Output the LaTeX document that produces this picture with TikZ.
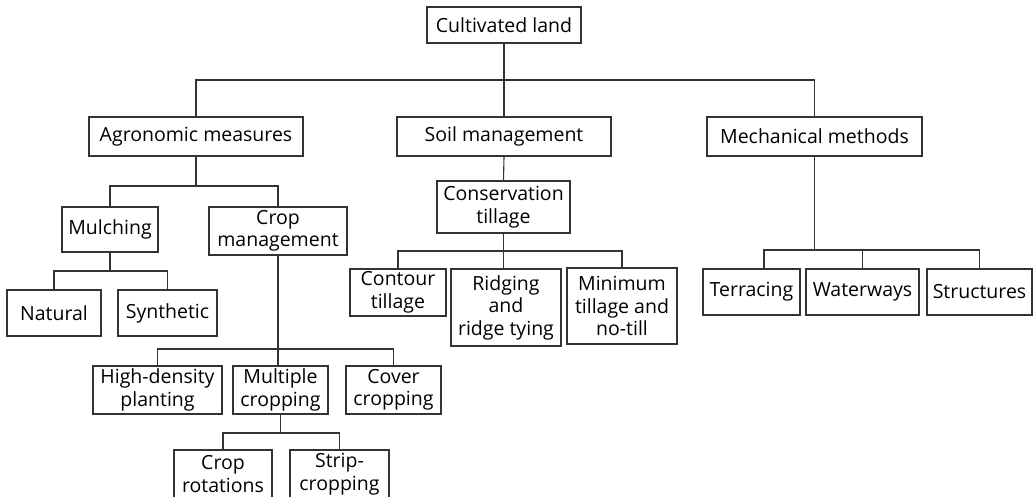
\documentclass[tikz,border=0pt]{standalone}
\usepackage{fontspec}
\setmainfont{Open Sans}
\begin{document}
\begin{tikzpicture}[x=1pt,y=-1pt,
  box/.style={draw=black!80, line width=1.1pt, inner sep=0pt, align=center,
    font=\fontsize{19.5}{22.5}\selectfont, text=black},
  sz/.style 2 args={minimum width=#1pt, minimum height=#2pt},
  conn/.style={draw=black!80, line width=1.1pt}]
\clip (0,0) rectangle (1036,496);
\fill[white] (0,0) rectangle (1036,496);
% nodes
\node[box,sz={154}{36}] (root) at (504,25) {Cultivated land};
\node[box,sz={214}{39}] (agro) at (196,136.5) {Agronomic measures};
\node[box,sz={214}{39}] (soil) at (504,136.5) {Soil management};
\node[box,sz={215}{39}] (mech) at (814.5,136.5) {Mechanical methods};
\node[box,sz={96}{45}] (mulch) at (110,229.5) {Mulching};
\node[box,sz={138}{48}] (cropm) at (278,231) {Crop\\management};
\node[box,sz={133}{52}] (cons) at (503.5,207) {Conservation\\tillage};
\node[box,sz={94}{46}] (natural) at (54,313) {Natural};
\node[box,sz={99}{46}] (synth) at (167.5,313) {Synthetic};
\node[box,sz={96}{47}] (contour) at (398,292.5) {Contour\\tillage};
\node[box,sz={110}{77}] (ridging) at (506,307.5) {Ridging\\and\\ridge tying};
\node[box,sz={110}{76}] (minimum) at (622,306) {Minimum\\tillage and\\no-till};
\node[box,sz={97}{46}] (terr) at (751.5,292) {Terracing};
\node[box,sz={113}{46}] (water) at (862.5,292) {Waterways};
\node[box,sz={105}{46}] (struct) at (979.5,292) {Structures};
\node[box,sz={129}{48}] (hd) at (157.5,390) {High-density\\planting};
\node[box,sz={95}{48}] (mult) at (280.5,390) {Multiple\\cropping};
\node[box,sz={95}{48}] (cover) at (393.5,390) {Cover\\cropping};
\node[box,sz={98}{48}] (rot) at (223,474) {Crop\\rotations};
\node[box,sz={99}{48}] (strip) at (339.5,474) {Strip-\\cropping};
% bus junctions
\coordinate (b0) at (504,80);
\coordinate (b1) at (196,186);
\coordinate (b2) at (110,271);
\coordinate (b3) at (278,349);
\coordinate (b4) at (280.5,433);
\coordinate (b5) at (503.5,251);
\coordinate (b6) at (814.5,250);
\coordinate (tt) at (764,269);
% connectors
\draw[conn] (root.south) -- (soil.north);
\draw[conn] (agro.north) |- (b0) -| (mech.north);
\draw[conn] (agro.south) -- (b1);
\draw[conn] (mulch.north) |- (b1) -| (cropm.north);
\draw[conn] (mulch.south) -- (b2);
\draw[conn] (natural.north) |- (b2) -| (synth.north);
\draw[conn] (cropm.south) -- (cropm.south |- mult.north);
\draw[conn] (hd.north) |- (b3) -| (cover.north);
\draw[conn] (mult.south) -- (b4);
\draw[conn] (rot.north) |- (b4) -| (strip.north);
\draw[conn] (soil.south) -- (cons.north);
\draw[conn] (cons.south) -- (cons.south |- ridging.north);
\draw[conn] (contour.north) |- (b5) -| (minimum.north);
\draw[conn] (mech.south) -- (b6);
\draw[conn] (tt) |- (b6) -| (struct.north);
\draw[conn] (water.north) -- (water.north |- b6);
\end{tikzpicture}
\end{document}
